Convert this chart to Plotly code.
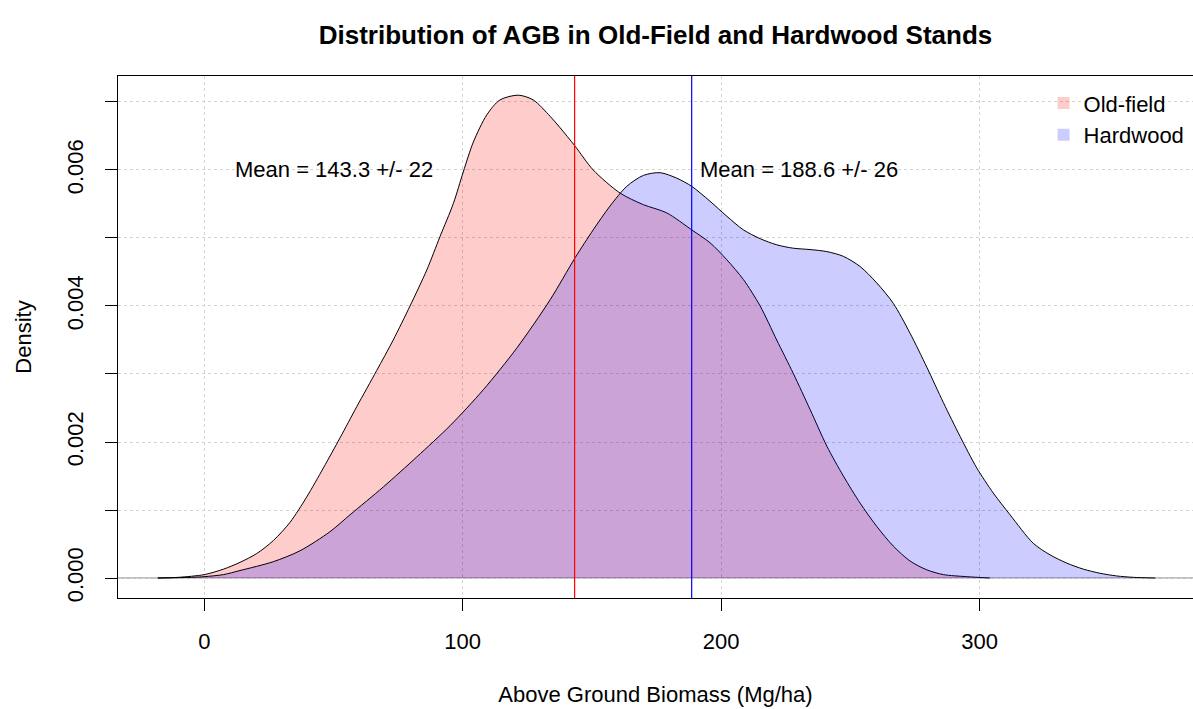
import plotly.graph_objects as go

# ---- data ----
oldfield_x = [-18, -10, 0, 7.4, 13.8, 20.3, 26.7, 33.2, 39.6, 46.1, 52.5, 59, 66.7, 73.1, 79.6,
              86.1, 91.2, 96.4, 100.2, 104.1, 109.3, 114.4, 121.5, 127.3, 133.8, 137.7, 143.5,
              150.5, 160.9, 169.9, 178.9, 188.6, 195.7, 202.2, 208.6, 215.1, 221.5, 227.9,
              234.4, 240.9, 247.3, 253.8, 260.2, 266.6, 273.1, 279.6, 286, 295, 304]
oldfield_y = [0, 0.00001, 0.00005, 0.00013, 0.00023, 0.00036, 0.00055, 0.00082, 0.00119, 0.00162,
              0.00206, 0.00252, 0.00305, 0.0035, 0.004, 0.00453, 0.00502, 0.00551, 0.00597,
              0.00641, 0.00681, 0.00703, 0.0071, 0.00703, 0.00679, 0.00662, 0.00635, 0.006,
              0.00566, 0.00549, 0.00537, 0.00512, 0.00493, 0.00468, 0.00439, 0.004, 0.0035,
              0.00301, 0.00248, 0.00194, 0.0015, 0.0011, 0.00076, 0.00047, 0.00025, 0.00012,
              0.00005, 0.00002, 0]

hardwood_x = [-18, -5, 0, 7.4, 13.8, 26.7, 37, 48.6, 56.4, 69.3, 82.2, 95.1, 108, 120.9, 133.8,
              143.5, 150.5, 157, 163.5, 169.9, 176.4, 182.8, 188.6, 195.7, 202.2, 208.6, 215.1,
              221.5, 227.9, 234.4, 240.9, 247.3, 253.8, 260.2, 266.6, 273.1, 279.6, 286, 292.5,
              298.9, 305.3, 311.8, 320.8, 327.3, 333.7, 340.2, 346.6, 353.1, 359.5, 368]
hardwood_y = [0, 0.00001, 0.00002, 0.00005, 0.00011, 0.00024, 0.0004, 0.00068, 0.00093, 0.00134,
              0.00178, 0.00224, 0.00277, 0.00338, 0.00409, 0.00471, 0.00512, 0.00547, 0.00576,
              0.00592, 0.00596, 0.00588, 0.00576, 0.00554, 0.00532, 0.00512, 0.00499, 0.0049,
              0.00485, 0.00483, 0.0048, 0.00473, 0.00458, 0.00434, 0.00404, 0.0036, 0.0031,
              0.00258, 0.00208, 0.00162, 0.00125, 0.00093, 0.00051, 0.00034, 0.00022, 0.00013,
              0.00007, 0.00003, 0.00001, 0]

group_names = ["Old-field", "Hardwood"]
group_means = [143.3, 188.6]
group_sds = [22, 26]
label_x = [50, 230]
label_y = [0.006, 0.006]

x_tick_vals = [0, 100, 200, 300]
y_tick_vals = [0, 0.001, 0.002, 0.003, 0.004, 0.005, 0.006, 0.007]
y_tick_text = ["0.000", "", "0.002", "", "0.004", "", "0.006", ""]

fill_colors = ["rgba(255,0,0,0.2)", "rgba(0,0,255,0.2)"]
line_colors = ["#ff0000", "#0000ff"]

FONT = "Arial, 'Liberation Sans', sans-serif"

fig = go.Figure()

for xs, ys, fc, nm in [(oldfield_x, oldfield_y, fill_colors[0], group_names[0]),
                       (hardwood_x, hardwood_y, fill_colors[1], group_names[1])]:
    fig.add_trace(go.Scatter(x=xs, y=ys, mode="lines", fill="toself", fillcolor=fc,
                             line=dict(color="black", width=1, shape="spline", smoothing=0.8),
                             showlegend=False, hoverinfo="skip", name=nm))

# legend entries (filled squares)
for nm, fc in zip(group_names, fill_colors):
    fig.add_trace(go.Scatter(x=[None], y=[None], mode="markers", name=nm,
                             marker=dict(symbol="square", size=15, color=fc,
                                         line=dict(width=0))))

shapes = [dict(type="line", xref="paper", yref="y", x0=0, x1=1, y0=0, y1=0,
               line=dict(color="gray", width=1), layer="below")]
for m, lc in zip(group_means, line_colors):
    shapes.append(dict(type="line", xref="x", yref="paper", x0=m, x1=m, y0=0, y1=1,
                       line=dict(color=lc, width=1.2)))

annotations = []
for lx, ly, m, s in zip(label_x, label_y, group_means, group_sds):
    annotations.append(dict(x=lx, y=ly, xref="x", yref="y", text=f"Mean = {m} +/- {s}",
                            showarrow=False, font=dict(size=22, color="black", family=FONT),
                            xanchor="center", yanchor="middle"))

fig.update_layout(
    width=1193, height=709,
    margin=dict(l=118, r=0, t=76, b=111),
    paper_bgcolor="white", plot_bgcolor="white",
    font=dict(family=FONT, size=22, color="black"),
    title=dict(text="<b>Distribution of AGB in Old-Field and Hardwood Stands</b>",
               x=0.5, xref="paper", xanchor="center",
               y=1 - 35 / 709, yref="container", yanchor="middle",
               font=dict(size=26, family=FONT, color="black")),
    shapes=shapes,
    annotations=annotations,
    showlegend=True,
    legend=dict(x=0.861, xanchor="left", y=0.988, yanchor="top",
                bgcolor="rgba(0,0,0,0)", borderwidth=0,
                font=dict(size=22, family=FONT, color="black"),
                tracegroupgap=0, itemsizing="constant"),
)

fig.update_xaxes(range=[-33.4, 382.6], tickvals=x_tick_vals, ticktext=[str(v) for v in x_tick_vals],
                 ticks="outside", ticklen=12, tickcolor="black", tickwidth=1,
                 ticklabelstandoff=12,
                 showline=True, linecolor="black", linewidth=1, mirror=True,
                 showgrid=True, gridcolor="lightgray", griddash="dot", gridwidth=1,
                 zeroline=False,
                 title=dict(text="Above Ground Biomass (Mg/ha)", standoff=33,
                            font=dict(size=22, family=FONT, color="black")))
fig.update_yaxes(range=[-0.000294, 0.007382], tickvals=y_tick_vals, ticktext=y_tick_text,
                 tickangle=-90,
                 ticks="outside", ticklen=12, tickcolor="black", tickwidth=1,
                 ticklabelstandoff=13,
                 showline=True, linecolor="black", linewidth=1, mirror=False,
                 showgrid=True, gridcolor="lightgray", griddash="dot", gridwidth=1,
                 zeroline=False,
                 title=dict(text="Density", standoff=25,
                            font=dict(size=22, family=FONT, color="black")))

fig.write_html("out.html")
